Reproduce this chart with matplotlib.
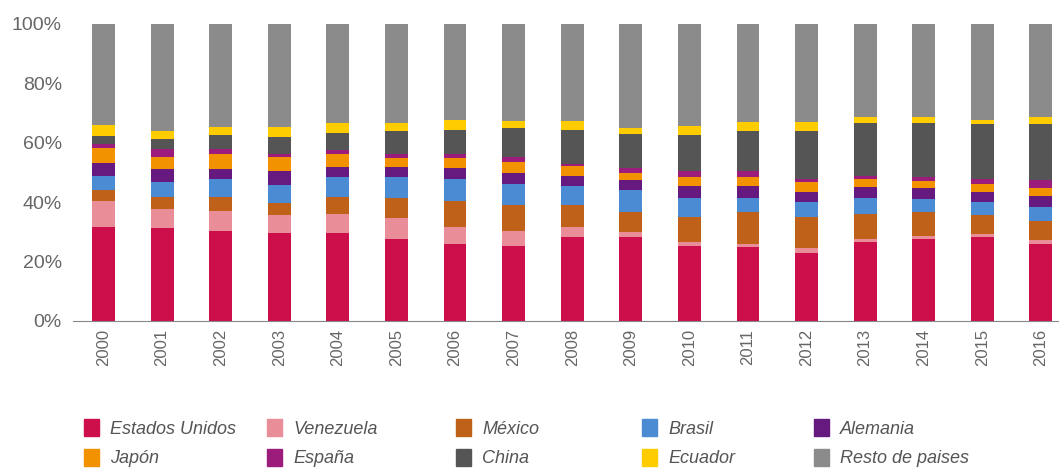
import matplotlib.pyplot as plt
from matplotlib.patches import Rectangle
import numpy as np

plt.rcParams['font.family'] = ['Liberation Sans', 'DejaVu Sans']

years = [str(y) for y in range(2000, 2017)]

# shares in % (bottom to top)
estados_unidos = [31.5, 31.1, 30.3, 29.6, 29.6, 27.4, 25.8, 25.3, 28.3, 28.3, 25.3, 24.7, 22.7, 26.6, 27.4, 28.1, 26.0]
venezuela = [9.0, 6.4, 6.6, 6.0, 6.5, 7.1, 5.8, 5.0, 3.3, 1.7, 1.1, 1.1, 1.7, 1.1, 1.1, 1.1, 1.2]
mexico = [3.7, 4.3, 4.9, 4.1, 5.7, 7.0, 8.8, 8.6, 7.3, 6.7, 8.6, 10.9, 10.6, 8.4, 8.2, 6.4, 6.5]
brasil = [4.5, 5.0, 5.9, 6.2, 6.7, 7.0, 7.5, 7.1, 6.4, 7.3, 6.5, 4.8, 5.1, 5.1, 4.2, 4.5, 4.7]
alemania = [4.5, 4.3, 3.4, 4.5, 3.4, 3.4, 3.4, 3.8, 3.4, 3.4, 3.8, 3.8, 3.3, 3.7, 3.7, 3.3, 3.6]
japon = [5.0, 4.1, 5.2, 4.8, 4.2, 3.1, 3.4, 3.7, 3.4, 2.4, 3.2, 3.0, 3.4, 2.7, 2.5, 2.8, 2.6]
espana = [1.3, 2.5, 1.7, 1.1, 1.4, 1.1, 1.4, 1.7, 0.8, 1.5, 2.0, 2.2, 1.1, 1.1, 1.4, 1.7, 2.8]
china = [2.8, 3.4, 4.7, 5.7, 5.9, 7.9, 8.1, 9.9, 11.5, 11.5, 12.2, 13.5, 16.1, 18.0, 18.2, 18.3, 19.0]
ecuador = [3.5, 2.9, 2.6, 3.3, 3.3, 2.7, 3.4, 2.2, 2.8, 2.0, 2.8, 3.0, 3.0, 1.8, 1.8, 1.6, 2.1]

series = [
    ('Estados Unidos', estados_unidos, '#CC0E4B'),
    ('Venezuela', venezuela, '#E98E98'),
    ('México', mexico, '#BF6118'),
    ('Brasil', brasil, '#4A8BD3'),
    ('Alemania', alemania, '#66197F'),
    ('Japón', japon, '#F39200'),
    ('España', espana, '#9C1C7C'),
    ('China', china, '#555555'),
    ('Ecuador', ecuador, '#FFCC00'),
]
resto = [100 - sum(s[1][i] for s in series) for i in range(len(years))]
series.append(('Resto de paises', resto, '#8B8B8B'))

fig = plt.figure(figsize=(10.59, 4.69), dpi=100)
ax = fig.add_axes([0.069, 0.316, 0.931, 0.633])

x = np.arange(len(years))
bottom = np.zeros(len(years))
for name, vals, color in series:
    ax.bar(x, vals, width=0.39, bottom=bottom, color=color, label=name)
    bottom += np.array(vals)

ax.set_ylim(0, 100)
ax.set_xlim(-0.52, 16.31)
ax.set_yticks([0, 20, 40, 60, 80, 100])
ax.set_yticklabels([f'{v}%' for v in [0, 20, 40, 60, 80, 100]], fontsize=14, color='#666666')
ax.set_xticks(x)
ax.set_xticklabels(years, rotation=90, fontsize=12, color='#666666')
ax.tick_params(length=0)
ax.tick_params(axis='y', pad=8)
ax.tick_params(axis='x', pad=6)
for side in ['top', 'right', 'left']:
    ax.spines[side].set_visible(False)
ax.spines['bottom'].set_color('#888888')

# legend: two rows, five columns, each column placed separately
col_x = [84, 267, 456, 642, 814]
for c in range(5):
    entries = [series[c], series[c + 5]]
    handles = [Rectangle((0, 0), 1, 1, color=e[2]) for e in entries]
    fig.legend(handles, [e[0] for e in entries], loc='upper left',
               bbox_to_anchor=(col_x[c] / 1059, 1 - 419 / 469),
               frameon=False, borderpad=0, borderaxespad=0,
               handlelength=0.85, handleheight=1.1, handletextpad=0.6,
               labelspacing=0.6,
               prop={'size': 13, 'style': 'italic'}, labelcolor='#555555')

fig.savefig('out.png', dpi=100)
